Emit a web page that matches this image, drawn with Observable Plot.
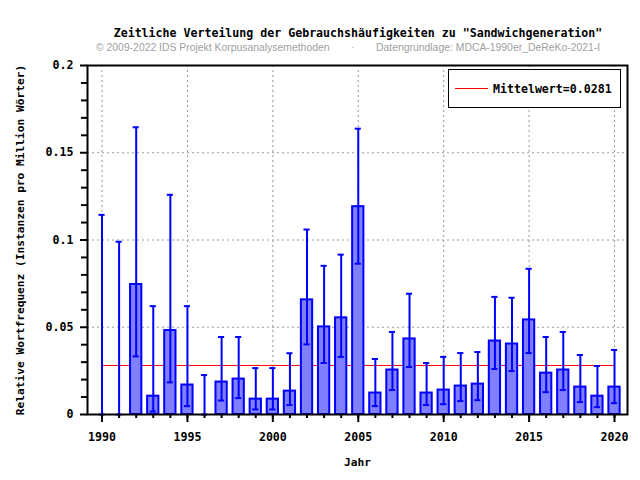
<!DOCTYPE html>
<html>
<head>
<meta charset="utf-8">
<script src="https://cdn.jsdelivr.net/npm/d3@7"></script>
<script src="https://cdn.jsdelivr.net/npm/@observablehq/plot@0.6"></script>
<style>
  html, body { margin: 0; padding: 0; background: #fff; }
  #wrap { position: relative; width: 640px; height: 480px; overflow: hidden; }
  #head { position: relative; width: 640px; height: 56px; }
  .mono { font-family: "DejaVu Sans Mono", monospace; font-weight: bold; color: #000; }
  #title { position: absolute; left: 0; width: 716px; top: 27px; text-align: center; font-size: 11.6px; line-height: 12px; white-space: nowrap; }
  .sub { position: absolute; top: 42px; font-family: "Liberation Sans", Arial, sans-serif; font-size: 10.4px; line-height: 12px; color: #a0a0a0; white-space: nowrap; }
  #legend { position: absolute; left: 448px; top: 69px; width: 171px; height: 37px; border: 1.3px solid #000; background: #fff; }
  #legline { position: absolute; left: 6px; top: 18px; width: 33px; height: 0; border-top: 1px solid #ff0000; }
  #legtext { position: absolute; left: 44px; top: 13px; font-size: 11.6px; line-height: 12px; white-space: nowrap; }
</style>
</head>
<body>
<div id="wrap">
  <div id="head">
    <div id="title" class="mono"></div>
    <span class="sub" id="sub1" style="left:96px"></span>
    <span class="sub" style="left:351px">·</span>
    <span class="sub" id="sub2" style="left:376px"></span>
  </div>
  <div id="chart"></div>
  <div id="legend"><div id="legline"></div><div id="legtext" class="mono"></div></div>
</div>
<script>
const titleText = "Zeitliche Verteilung der Gebrauchshäufigkeiten zu \"Sandwichgeneration\"";
const subLeft = "© 2009-2022 IDS Projekt Korpusanalysemethoden";
const subRight = "Datengrundlage: MDCA-1990er_DeReKo-2021-I";
const xLabel = "Jahr";
const yLabel = "Relative Wortfrequenz (Instanzen pro Million Wörter)";
const meanValue = 0.0281;
const legendLabel = "Mittelwert=0.0281";

const years = [1990,1991,1992,1993,1994,1995,1996,1997,1998,1999,2000,2001,2002,2003,2004,2005,2006,2007,2008,2009,2010,2011,2012,2013,2014,2015,2016,2017,2018,2019,2020];
const values = [0,0,0.0745,0.0105,0.0481,0.0169,0,0.0186,0.0203,0.0088,0.0088,0.0134,0.0657,0.0502,0.0554,0.1191,0.0123,0.0255,0.0433,0.0123,0.0140,0.0163,0.0174,0.0421,0.0404,0.0542,0.0237,0.0255,0.0157,0.0105,0.0157];
const lower = [0,0,0.0333,0.0017,0.0184,0.0048,0,0.0080,0.0094,0.0029,0.0029,0.0054,0.0402,0.0295,0.0330,0.0864,0.0048,0.0140,0.0272,0.0054,0.0059,0.0077,0.0082,0.0261,0.0249,0.0352,0.0128,0.0140,0.0071,0.0042,0.0065];
const upper = [0.1144,0.0990,0.1646,0.0621,0.1259,0.0621,0.0226,0.0444,0.0444,0.0266,0.0266,0.0351,0.1060,0.0852,0.0916,0.1638,0.0318,0.0473,0.0692,0.0295,0.0330,0.0352,0.0358,0.0674,0.0669,0.0835,0.0444,0.0473,0.0341,0.0278,0.0370];

const xMajorTicks = [1990,1995,2000,2005,2010,2015,2020];
const yMajorTicks = [0,0.05,0.1,0.15,0.2];
const yMinorTicks = [0.01,0.02,0.03,0.04,0.06,0.07,0.08,0.09,0.11,0.12,0.13,0.14,0.16,0.17,0.18,0.19];
const yGrid = [0.05,0.1,0.15];

document.getElementById("title").textContent = titleText;
document.getElementById("sub1").textContent = subLeft;
document.getElementById("sub2").textContent = subRight;
document.getElementById("legtext").textContent = legendLabel;

const data = years.map((year, i) => ({year, value: values[i], lo: lower[i], hi: upper[i]}));
const halfBar = 0.33, halfCap = 0.18;
const blue = "#0000ff";
const gridStyle = {stroke: "#999", strokeOpacity: 1, strokeDasharray: "2,3", strokeWidth: 1};

const chart = Plot.plot({
  width: 640,
  height: 424,
  marginLeft: 87,
  marginRight: 13,
  marginTop: 9,
  marginBottom: 66,
  style: {fontFamily: "DejaVu Sans Mono", fontSize: "11.6px", fontWeight: "bold", color: "#000", background: "#fff"},
  x: {domain: [1989.15, 2020.76], label: null},
  y: {domain: [0, 0.2], label: null},
  marks: [
    Plot.gridX(xMajorTicks, gridStyle),
    Plot.gridY(yGrid, gridStyle),
    Plot.ruleY([meanValue], {x1: years[0], x2: years[years.length - 1], stroke: "#ff0000", strokeWidth: 1}),
    Plot.rect(data, {x1: d => d.year - halfBar, x2: d => d.year + halfBar, y1: 0, y2: "value", fill: "#8080ff", stroke: blue, strokeWidth: 2}),
    Plot.ruleX(data, {x: "year", y1: "lo", y2: "hi", stroke: blue, strokeWidth: 2}),
    Plot.ruleY(data, {y: "hi", x1: d => d.year - halfCap, x2: d => d.year + halfCap, stroke: blue, strokeWidth: 2}),
    Plot.ruleY(data, {y: "lo", x1: d => d.year - halfCap, x2: d => d.year + halfCap, stroke: blue, strokeWidth: 2}),
    Plot.frame({stroke: "#000", strokeWidth: 2}),
    Plot.axisX(xMajorTicks, {tickSize: 8, tickPadding: 10, tickFormat: d => String(d), strokeWidth: 2, label: null}),
    Plot.axisX(years, {tickSize: 4, tickFormat: () => "", strokeWidth: 2, label: null}),
    Plot.axisY(yMajorTicks, {tickSize: 7, tickPadding: 7, tickFormat: d => String(d), strokeWidth: 2, label: null}),
    Plot.axisY(yMinorTicks, {tickSize: 6, tickFormat: () => "", strokeWidth: 2, label: null}),
    Plot.text([xLabel], {text: d => d, frameAnchor: "bottom", dy: 51, fontSize: 11.2, fontWeight: "bold"}),
    Plot.text([yLabel], {text: d => d, frameAnchor: "left", textAnchor: "middle", dx: -67, rotate: -90, fontSize: 11.2, fontWeight: "bold"})
  ]
});
document.getElementById("chart").appendChild(chart);
</script>
</body>
</html>
